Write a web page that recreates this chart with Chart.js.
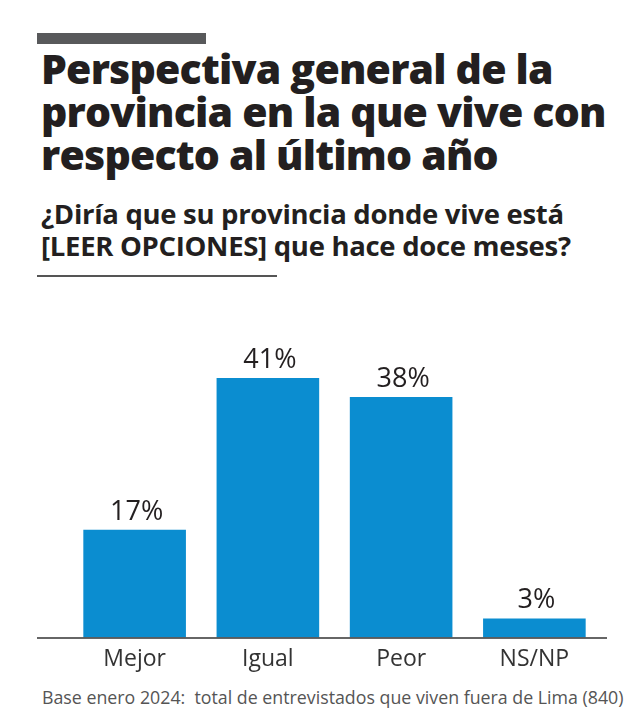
<!DOCTYPE html>
<html>
<head>
<meta charset="utf-8">
<script src="https://cdn.jsdelivr.net/npm/chart.js@4.4.1/dist/chart.umd.min.js"></script>
<style>
  body { margin: 0; background: #fff; width: 640px; height: 720px; position: relative; overflow: hidden; font-family: "Open Sans", sans-serif; color: #231f20; }
  #topbar { position: absolute; left: 37px; top: 33px; width: 169px; height: 11px; background: #58595b; }
  #title { position: absolute; left: 41px; top: 47px; font-size: 41px; line-height: 43px; font-weight: 800; letter-spacing: -0.8px; }
  #subtitle { position: absolute; left: 41px; top: 198px; font-size: 27.5px; line-height: 32px; font-weight: 700; letter-spacing: -0.3px; }
  #rule { position: absolute; left: 37px; top: 275px; width: 240px; height: 1.5px; background: #555; }
  #wrap { position: absolute; left: 0; top: 300px; width: 640px; height: 380px; }
  #footer { position: absolute; left: 42px; top: 685px; font-size: 17.8px; color: #555; white-space: pre; }
</style>
</head>
<body>
<div id="topbar"></div>
<div id="title">Perspectiva general de la<br>provincia en la que vive con<br>respecto al último año</div>
<div id="subtitle">¿Diría que su provincia donde vive está<br>[LEER OPCIONES] que hace doce meses?</div>
<div id="rule"></div>
<div id="wrap"><canvas id="myChart"></canvas></div>
<div id="footer">Base enero 2024:  total de entrevistados que viven fuera de Lima (840)</div>

<script>
var categories = ['Mejor', 'Igual', 'Peor', 'NS/NP'];
var values = [17, 41, 38, 3];
var barColor = '#0b8dd0';

// value labels over each bar + baseline
var barLabels = {
   id: 'barLabels',
   afterDatasetsDraw: function (chart) {
      var ctx = chart.ctx;
      var meta = chart.getDatasetMeta(0);
      ctx.save();
      ctx.font = '27px "Open Sans"';
      ctx.fillStyle = '#231f20';
      ctx.textAlign = 'center';
      ctx.textBaseline = 'alphabetic';
      meta.data.forEach(function (bar, i) {
         ctx.fillText(values[i] + '%', bar.x + 2, bar.y - 10);
      });
      // axis line
      var y = chart.chartArea.bottom + 0.5;
      ctx.strokeStyle = '#333';
      ctx.lineWidth = 1.5;
      ctx.beginPath();
      ctx.moveTo(37, y);
      ctx.lineTo(607, y);
      ctx.stroke();
      ctx.restore();
   }
};

var ctx = document.getElementById('myChart').getContext('2d');
var myChart = new Chart(ctx, {
   type: 'bar',
   data: {
      labels: categories,
      datasets: [{
         data: values,
         backgroundColor: barColor,
         borderWidth: 0,
         barPercentage: 0.77,
         categoryPercentage: 1
      }]
   },
   plugins: [barLabels],
   options: {
      responsive: true,
      maintainAspectRatio: false,
      animation: false,
      layout: { padding: { top: 21, left: 68, right: 39, bottom: -1 } },
      plugins: { legend: { display: false }, tooltip: { enabled: false } },
      scales: {
         y: { display: false, min: 0, max: 50 },
         x: {
            grid: { display: false, drawTicks: false },
            border: { display: false },
            ticks: { color: '#333', padding: 8, font: { family: 'Open Sans', size: 23 } }
         }
      }
   }
});
</script>
</body>
</html>
